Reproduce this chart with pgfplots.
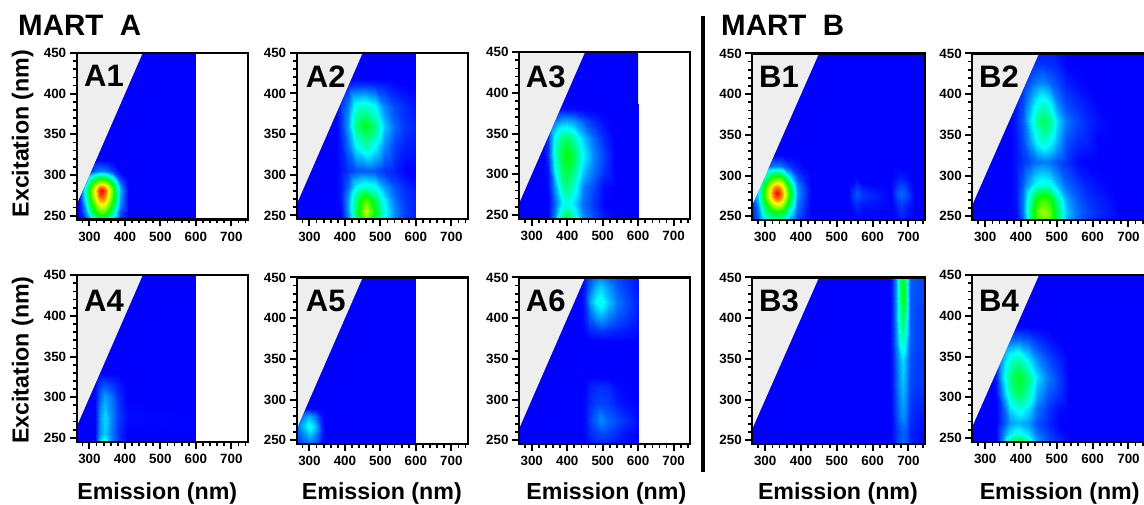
\documentclass[border=0pt]{standalone}
\usepackage{fontspec}
\setmainfont{Liberation Sans}
\usepackage{pgfplots}
\pgfplotsset{compat=1.18}
\pgfplotsset{
  colormap={eem}{rgb255(0)=(0,0,255) rgb255(1)=(0,255,255) rgb255(2)=(0,255,0) rgb255(3)=(255,255,0) rgb255(4)=(255,0,0)},
  eem/.style={
    scale only axis, width=171.3pt, height=166.5pt,
    xmin=264, xmax=747, ymin=245.3, ymax=450,
    colormap name=eem, point meta min=0, point meta max=1,
    xtick={300,400,500,600,700}, ytick={250,300,350,400,450},
    minor xtick={280,300,...,740}, minor ytick={250,260,...,450},
    tick align=outside, tick pos=left,
    major tick length=7pt, minor tick length=4pt,
    major tick style={black,line width=2pt},
    minor tick style={black,line width=1.7pt},
    axis line style={black,line width=2.2pt},
    axis on top, clip mode=individual,
    tick label style={font=\fontsize{13.4pt}{14pt}\selectfont\bfseries},
    /pgf/number format/assume math mode=true,
    xticklabel style={yshift=-2pt},
    label style={font=\fontsize{23.2pt}{24pt}\selectfont\bfseries},
  },
  surfp/.style={surf,shader=interp,point meta=explicit,mesh/cols=#1,forget plot},
  emx/.style 2 args={xlabel={Emission (nm)},xlabel style={at={(axis description cs:#1,#2)},anchor=center}},
  exy/.style={ylabel={Excitation (nm)},ylabel style={at={(axis description cs:-0.315,#1)},anchor=center,rotate=0}},
}
\definecolor{scat}{RGB}{238,238,238}
\newcommand{\scatter}{\addplot[fill=scat,draw=none,forget plot] coordinates {(262,262)(450,450)(262,450)(262,262)};
\draw[black,line width=2.2pt] (rel axis cs:0,0) rectangle (rel axis cs:1,1);}
\newcommand{\bgA}{\addplot[fill=blue,draw=none,forget plot] coordinates {(263,245)(600,245)(600,450)(263,450)(263,245)};}
\newcommand{\bgB}{\addplot[fill=blue,draw=none,forget plot] coordinates {(263,245)(750,245)(750,450)(263,450)(263,245)};}
\begin{document}
\begin{tikzpicture}[x=1pt,y=1pt]
\path[use as bounding box] (0,0) rectangle (1144,505);

% A1
\begin{axis}[eem,exy=0.516,at={(76.7pt,285.5pt)},anchor=south west]
\bgA
\addplot[surfp=11] coordinates {
(272,245)[0] (290,245)[.07] (305,245)[.2] (320,245)[.34] (328,245)[.38] (336,245)[.39] (344,245)[.37] (352,245)[.32] (365,245)[.17] (385,245)[.03] (410,245)[0]

(272,255)[.02] (290,255)[.15] (305,255)[.38] (320,255)[.53] (328,255)[.57] (336,255)[.58] (344,255)[.56] (352,255)[.5] (365,255)[.34] (385,255)[.08] (410,255)[0]

(272,268)[.04] (290,268)[.27] (305,268)[.53] (320,268)[.74] (328,268)[.81] (336,268)[.83] (344,268)[.79] (352,268)[.69] (365,268)[.5] (385,268)[.15] (410,268)[0]

(272,275)[.05] (290,275)[.31] (305,275)[.58] (320,275)[.82] (328,275)[.92] (336,275)[.95] (344,275)[.87] (352,275)[.76] (365,275)[.54] (385,275)[.17] (410,275)[0]

(272,281)[.05] (290,281)[.32] (305,281)[.59] (320,281)[.84] (328,281)[.96] (336,281)[1] (344,281)[.91] (352,281)[.78] (365,281)[.56] (385,281)[.18] (410,281)[.01]

(272,287)[.04] (290,287)[.28] (305,287)[.55] (320,287)[.76] (328,287)[.83] (336,287)[.85] (344,287)[.8] (352,287)[.7] (365,287)[.51] (385,287)[.15] (410,287)[0]

(272,293)[.02] (290,293)[.16] (305,293)[.41] (320,293)[.56] (328,293)[.61] (336,293)[.62] (344,293)[.59] (352,293)[.53] (365,293)[.38] (385,293)[.09] (410,293)[0]

(272,305)[0] (290,305)[.01] (305,305)[.05] (320,305)[.11] (328,305)[.13] (336,305)[.13] (344,305)[.12] (352,305)[.1] (365,305)[.05] (385,305)[0] (410,305)[0]

(272,318)[0] (290,318)[0] (305,318)[0] (320,318)[0] (328,318)[0] (336,318)[0] (344,318)[0] (352,318)[0] (365,318)[0] (385,318)[0] (410,318)[0]
};
\scatter
\end{axis}

% A2
\begin{axis}[eem,at={(296.7pt,285.7pt)},anchor=south west]
\bgA
\addplot[surfp=10] coordinates {
(375,245)[0] (390,245)[0] (410,245)[.12] (430,245)[.36] (458,245)[.62] (485,245)[.42] (510,245)[.24] (540,245)[.12] (570,245)[.05] (600,245)[.03]

(375,255)[0] (390,255)[.01] (410,255)[.15] (430,255)[.42] (458,255)[.7] (485,255)[.5] (510,255)[.28] (540,255)[.13] (570,255)[.06] (600,255)[.03]

(375,270)[0] (390,270)[.02] (410,270)[.15] (430,270)[.38] (458,270)[.57] (485,270)[.42] (510,270)[.24] (540,270)[.11] (570,270)[.05] (600,270)[.03]

(375,285)[0] (390,285)[.02] (410,285)[.1] (430,285)[.25] (458,285)[.3] (485,285)[.27] (510,285)[.16] (540,285)[.08] (570,285)[.04] (600,285)[.02]

(375,305)[0] (390,305)[.02] (410,305)[.05] (430,305)[.08] (458,305)[.09] (485,305)[.08] (510,305)[.05] (540,305)[.03] (570,305)[0] (600,305)[0]

(375,335)[0] (390,335)[.03] (410,335)[.11] (430,335)[.25] (458,335)[.32] (485,335)[.25] (510,335)[.14] (540,335)[.06] (570,335)[.03] (600,335)[.02]

(375,360)[0] (390,360)[.05] (410,360)[.16] (430,360)[.38] (458,360)[.48] (485,360)[.38] (510,360)[.2] (540,360)[.1] (570,360)[.05] (600,360)[.03]

(375,385)[0] (390,385)[.05] (410,385)[.12] (430,385)[.28] (458,385)[.3] (485,385)[.25] (510,385)[.13] (540,385)[.07] (570,385)[.04] (600,385)[.02]

(375,410)[0] (390,410)[.01] (410,410)[.03] (430,410)[.05] (458,410)[.05] (485,410)[.04] (510,410)[.03] (540,410)[.01] (570,410)[0] (600,410)[0]

(375,418)[0] (390,418)[0] (410,418)[0] (430,418)[0] (458,418)[0] (485,418)[0] (510,418)[0] (540,418)[0] (570,418)[0] (600,418)[0]
};
\scatter
\end{axis}

% A3
\begin{axis}[eem,at={(519pt,286.3pt)},anchor=south west]
\bgA
\addplot[surfp=11] coordinates {
(332,245)[0] (345,245)[0] (365,245)[.14] (385,245)[.4] (400,245)[.48] (420,245)[.34] (445,245)[.14] (475,245)[.08] (505,245)[.03] (535,245)[0] (600,245)[0]

(332,255)[0] (345,255)[0] (365,255)[.12] (385,255)[.3] (400,255)[.36] (420,255)[.27] (445,255)[.12] (475,255)[.06] (505,255)[.015] (535,255)[0] (600,255)[0]

(332,265)[0] (345,265)[0] (365,265)[.1] (385,265)[.24] (400,265)[.27] (420,265)[.22] (445,265)[.11] (475,265)[.05] (505,265)[0] (535,265)[0] (600,265)[0]

(332,285)[0] (345,285)[.01] (365,285)[.16] (385,285)[.34] (400,285)[.38] (420,285)[.29] (445,285)[.13] (475,285)[.07] (505,285)[.01] (535,285)[0] (600,285)[0]

(332,305)[0] (345,305)[.02] (365,305)[.25] (385,305)[.41] (400,305)[.44] (420,305)[.38] (445,305)[.2] (475,305)[.11] (505,305)[.05] (535,305)[0] (600,305)[0]

(332,325)[0] (345,325)[.05] (365,325)[.3] (385,325)[.44] (400,325)[.5] (420,325)[.42] (445,325)[.25] (475,325)[.13] (505,325)[.06] (535,325)[0] (600,325)[0]

(332,345)[0] (345,345)[.05] (365,345)[.27] (385,345)[.38] (400,345)[.39] (420,345)[.33] (445,345)[.2] (475,345)[.1] (505,345)[.04] (535,345)[0] (600,345)[0]

(332,365)[0] (345,365)[.04] (365,365)[.12] (385,365)[.16] (400,365)[.17] (420,365)[.15] (445,365)[.09] (475,365)[.04] (505,365)[.01] (535,365)[0] (600,365)[0]

(332,380)[0] (345,380)[0] (365,380)[0] (385,380)[.01] (400,380)[.01] (420,380)[.01] (445,380)[0] (475,380)[0] (505,380)[0] (535,380)[0] (600,380)[0]

(332,386)[0] (345,386)[0] (365,386)[0] (385,386)[0] (400,386)[0] (420,386)[0] (445,386)[0] (475,386)[0] (505,386)[0] (535,386)[0] (600,386)[0]
};
\scatter
\end{axis}

% B1
\begin{axis}[eem,width=173pt,at={(752.3pt,285pt)},anchor=south west]
\bgB
\addplot[surfp=22] coordinates {
(263,245)[.03] (280,245)[.1] (297,245)[.25] (315,245)[.3] (324,245)[.3] (332,245)[.3] (340,245)[.3] (349,245)[.28] (370,245)[.14] (390,245)[.06] (413,245)[.02] (428,245)[0] (530,245)[0] (545,245)[0] (557,245)[0] (570,245)[0] (650,245)[0] (665,245)[0] (680,245)[.03] (695,245)[0] (715,245)[0] (750,245)[0]

(263,258)[.03] (280,258)[.12] (297,258)[.35] (315,258)[.5] (324,258)[.54] (332,258)[.55] (340,258)[.54] (349,258)[.52] (370,258)[.28] (390,258)[.1] (413,258)[.03] (428,258)[0] (530,258)[0] (545,258)[.01] (557,258)[.03] (570,258)[.01] (650,258)[0] (665,258)[.02] (680,258)[.05] (695,258)[.02] (715,258)[0] (750,258)[0]

(263,268)[.05] (280,268)[.17] (297,268)[.46] (315,268)[.69] (324,268)[.77] (332,268)[.8] (340,268)[.77] (349,268)[.69] (370,268)[.42] (390,268)[.12] (413,268)[.04] (428,268)[0] (530,268)[0] (545,268)[.03] (557,268)[.05] (570,268)[.03] (650,268)[0] (665,268)[.04] (680,268)[.07] (695,268)[.04] (715,268)[0] (750,268)[0]

(263,274)[.08] (280,274)[.21] (297,274)[.51] (315,274)[.79] (324,274)[.89] (332,274)[.94] (340,274)[.89] (349,274)[.79] (370,274)[.47] (390,274)[.14] (413,274)[.05] (428,274)[0] (530,274)[0] (545,274)[.05] (557,274)[.08] (570,274)[.05] (650,274)[0] (665,274)[.06] (680,274)[.1] (695,274)[.06] (715,274)[0] (750,274)[0]

(263,279)[.1] (280,279)[.22] (297,279)[.53] (315,279)[.81] (324,279)[.94] (332,279)[1] (340,279)[.94] (349,279)[.81] (370,279)[.49] (390,279)[.15] (413,279)[.05] (428,279)[0] (530,279)[0] (545,279)[.05] (557,279)[.08] (570,279)[.05] (650,279)[0] (665,279)[.07] (680,279)[.1] (695,279)[.07] (715,279)[0] (750,279)[0]

(263,285)[.05] (280,285)[.2] (297,285)[.5] (315,285)[.77] (324,285)[.87] (332,285)[.91] (340,285)[.87] (349,285)[.77] (370,285)[.46] (390,285)[.14] (413,285)[.05] (428,285)[0] (530,285)[0] (545,285)[.03] (557,285)[.06] (570,285)[.03] (650,285)[0] (665,285)[.05] (680,285)[.08] (695,285)[.05] (715,285)[0] (750,285)[0]

(263,291)[.02] (280,291)[.16] (297,291)[.44] (315,291)[.66] (324,291)[.73] (332,291)[.76] (340,291)[.73] (349,291)[.66] (370,291)[.39] (390,291)[.12] (413,291)[.03] (428,291)[0] (530,291)[0] (545,291)[0] (557,291)[.03] (570,291)[0] (650,291)[0] (665,291)[.03] (680,291)[.06] (695,291)[.03] (715,291)[0] (750,291)[0]

(263,300)[0] (280,300)[.07] (297,300)[.25] (315,300)[.45] (324,300)[.5] (332,300)[.51] (340,300)[.5] (349,300)[.45] (370,300)[.21] (390,300)[.07] (413,300)[.02] (428,300)[0] (530,300)[0] (545,300)[0] (557,300)[0] (570,300)[0] (650,300)[0] (665,300)[.01] (680,300)[.02] (695,300)[.01] (715,300)[0] (750,300)[0]

(263,312)[0] (280,312)[.02] (297,312)[.07] (315,312)[.11] (324,312)[.12] (332,312)[.12] (340,312)[.12] (349,312)[.1] (370,312)[.05] (390,312)[.02] (413,312)[0] (428,312)[0] (530,312)[0] (545,312)[0] (557,312)[0] (570,312)[0] (650,312)[0] (665,312)[0] (680,312)[0] (695,312)[0] (715,312)[0] (750,312)[0]

(263,325)[0] (280,325)[0] (297,325)[0] (315,325)[0] (324,325)[0] (332,325)[0] (340,325)[0] (349,325)[0] (370,325)[0] (390,325)[0] (413,325)[0] (428,325)[0] (530,325)[0] (545,325)[0] (557,325)[0] (570,325)[0] (650,325)[0] (665,325)[0] (680,325)[0] (695,325)[0] (715,325)[0] (750,325)[0]
};
\scatter
\end{axis}

% B2
\begin{axis}[eem,width=173pt,at={(972.3pt,285pt)},anchor=south west]
\bgB
\addplot[surfp=15] coordinates {
(370,245)[0] (385,245)[0] (405,245)[.1] (425,245)[.34] (445,245)[.56] (462,245)[.6] (480,245)[.56] (500,245)[.38] (525,245)[.18] (555,245)[.1] (585,245)[.06] (615,245)[.03] (655,245)[.01] (670,245)[0] (750,245)[0]

(370,255)[0] (385,255)[.01] (405,255)[.12] (425,255)[.38] (445,255)[.6] (462,255)[.66] (480,255)[.6] (500,255)[.42] (525,255)[.2] (555,255)[.11] (585,255)[.07] (615,255)[.04] (655,255)[.02] (670,255)[0] (750,255)[0]

(370,272)[0] (385,272)[.02] (405,272)[.12] (425,272)[.32] (445,272)[.5] (462,272)[.55] (480,272)[.5] (500,272)[.34] (525,272)[.16] (555,272)[.09] (585,272)[.05] (615,272)[.03] (655,272)[.01] (670,272)[0] (750,272)[0]

(370,290)[0] (385,290)[.02] (405,290)[.09] (425,290)[.18] (445,290)[.26] (462,290)[.28] (480,290)[.26] (500,290)[.18] (525,290)[.1] (555,290)[.06] (585,290)[.03] (615,290)[.01] (655,290)[0] (670,290)[0] (750,290)[0]

(370,317)[0] (385,317)[.02] (405,317)[.05] (425,317)[.08] (445,317)[.11] (462,317)[.12] (480,317)[.11] (500,317)[.08] (525,317)[.05] (555,317)[.01] (585,317)[0] (615,317)[0] (655,317)[0] (670,317)[0] (750,317)[0]

(370,340)[0] (385,340)[.02] (405,340)[.07] (425,340)[.15] (445,340)[.25] (462,340)[.29] (480,340)[.25] (500,340)[.17] (525,340)[.08] (555,340)[.04] (585,340)[.03] (615,340)[0] (655,340)[0] (670,340)[0] (750,340)[0]

(370,367)[0] (385,367)[.03] (405,367)[.09] (425,367)[.22] (445,367)[.35] (462,367)[.42] (480,367)[.36] (500,367)[.22] (525,367)[.12] (555,367)[.07] (585,367)[.04] (615,367)[.015] (655,367)[0] (670,367)[0] (750,367)[0]

(370,390)[0] (385,390)[.02] (405,390)[.07] (425,390)[.16] (445,390)[.25] (462,390)[.29] (480,390)[.24] (500,390)[.13] (525,390)[.07] (555,390)[.04] (585,390)[.02] (615,390)[0] (655,390)[0] (670,390)[0] (750,390)[0]

(370,415)[0] (385,415)[0] (405,415)[.04] (425,415)[.08] (445,415)[.12] (462,415)[.13] (480,415)[.1] (500,415)[.07] (525,415)[.03] (555,415)[.01] (585,415)[0] (615,415)[0] (655,415)[0] (670,415)[0] (750,415)[0]

(370,440)[0] (385,440)[0] (405,440)[0] (425,440)[.03] (445,440)[.04] (462,440)[.04] (480,440)[.04] (500,440)[.03] (525,440)[0] (555,440)[0] (585,440)[0] (615,440)[0] (655,440)[0] (670,440)[0] (750,440)[0]

(370,450)[0] (385,450)[0] (405,450)[0] (425,450)[.02] (445,450)[.03] (462,450)[.03] (480,450)[.03] (500,450)[.02] (525,450)[0] (555,450)[0] (585,450)[0] (615,450)[0] (655,450)[0] (670,450)[0] (750,450)[0]
};
\scatter
\end{axis}

% A4
\begin{axis}[eem,exy=0.49,emx={0.47}{-0.314},at={(76.7pt,63.3pt)},anchor=south west]
\bgA
\addplot[surfp=8] coordinates {
(263,245)[0] (315,245)[0] (330,245)[.22] (345,245)[.3] (360,245)[.16] (380,245)[.06] (405,245)[0] (600,245)[0]

(263,255)[0] (315,255)[0] (330,255)[.15] (345,255)[.2] (360,255)[.12] (380,255)[.05] (405,255)[0] (600,255)[0]

(263,275)[0] (315,275)[0] (330,275)[.15] (345,275)[.22] (360,275)[.14] (380,275)[.06] (405,275)[.01] (600,275)[0]

(263,300)[0] (315,300)[0] (330,300)[.1] (345,300)[.16] (360,300)[.12] (380,300)[.05] (405,300)[0] (600,300)[0]

(263,315)[0] (315,315)[0] (330,315)[.06] (345,315)[.08] (360,315)[.06] (380,315)[.03] (405,315)[0] (600,315)[0]

(263,330)[0] (315,330)[0] (330,330)[0] (345,330)[0] (360,330)[0] (380,330)[0] (405,330)[0] (600,330)[0]
};
\scatter
\end{axis}

% A5
\begin{axis}[eem,emx={0.497}{-0.3},at={(296.7pt,61pt)},anchor=south west]
\bgA
\addplot[surfp=6] coordinates {
(263,245)[.04] (285,245)[.08] (300,245)[.11] (315,245)[.08] (335,245)[.01] (345,245)[0]

(263,255)[.07] (285,255)[.13] (300,255)[.18] (315,255)[.13] (335,255)[.02] (345,255)[0]

(263,268)[.1] (285,268)[.2] (300,268)[.28] (315,268)[.2] (335,268)[.03] (345,268)[0]

(263,280)[.05] (285,280)[.13] (300,280)[.17] (315,280)[.12] (335,280)[.02] (345,280)[0]

(263,290)[0] (285,290)[0] (300,290)[0] (315,290)[0] (335,290)[0] (345,290)[0]
};
\scatter
\end{axis}

% A6
\begin{axis}[eem,emx={0.51}{-0.3},at={(519pt,61pt)},anchor=south west]
\bgA
\addplot[surfp=9] coordinates {
(440,245)[0] (450,245)[0] (465,245)[.02] (480,245)[.03] (495,245)[.03] (515,245)[.03] (540,245)[.01] (570,245)[0] (600,245)[0]

(440,258)[0] (450,258)[.01] (465,258)[.04] (480,258)[.06] (495,258)[.07] (515,258)[.06] (540,258)[.04] (570,258)[.01] (600,258)[0]

(440,275)[0] (450,275)[.01] (465,275)[.06] (480,275)[.1] (495,275)[.14] (515,275)[.1] (540,275)[.07] (570,275)[.04] (600,275)[.01]

(440,295)[0] (450,295)[.01] (465,295)[.04] (480,295)[.06] (495,295)[.07] (515,295)[.06] (540,295)[.03] (570,295)[.01] (600,295)[0]

(440,315)[0] (450,315)[0] (465,315)[.03] (480,315)[.04] (495,315)[.045] (515,315)[.04] (540,315)[.01] (570,315)[0] (600,315)[0]

(440,328)[0] (450,328)[0] (465,328)[0] (480,328)[0] (495,328)[0] (515,328)[0] (540,328)[0] (570,328)[0] (600,328)[0]

(440,372)[0] (450,372)[0] (465,372)[0] (480,372)[0] (495,372)[0] (515,372)[0] (540,372)[0] (570,372)[0] (600,372)[0]

(440,385)[0] (450,385)[.01] (465,385)[.04] (480,385)[.05] (495,385)[.06] (515,385)[.05] (540,385)[.035] (570,385)[.025] (600,385)[.01]

(440,400)[0] (450,400)[.03] (465,400)[.09] (480,400)[.14] (495,400)[.16] (515,400)[.12] (540,400)[.08] (570,400)[.05] (600,400)[.025]

(440,420)[0] (450,420)[.04] (465,420)[.16] (480,420)[.25] (495,420)[.28] (515,420)[.2] (540,420)[.12] (570,420)[.07] (600,420)[.03]

(440,440)[0] (450,440)[.03] (465,440)[.1] (480,440)[.17] (495,440)[.2] (515,440)[.15] (540,440)[.09] (570,440)[.05] (600,440)[.02]

(440,450)[0] (450,450)[.03] (465,450)[.07] (480,450)[.11] (495,450)[.13] (515,450)[.1] (540,450)[.07] (570,450)[.04] (600,450)[.02]
};
\scatter
\end{axis}

% B3
\begin{axis}[eem,width=173pt,emx={0.495}{-0.3},at={(752.3pt,61pt)},anchor=south west]
\bgB
\addplot[surfp=9] coordinates {
(645,245)[0] (655,245)[.01] (665,245)[.05] (675,245)[.09] (684,245)[.1] (695,245)[.08] (705,245)[.03] (720,245)[.02] (750,245)[0]

(645,260)[0] (655,260)[.01] (665,260)[.05] (675,260)[.08] (684,260)[.09] (695,260)[.08] (705,260)[.03] (720,260)[.02] (750,260)[0]

(645,280)[0] (655,280)[.01] (665,280)[.07] (675,280)[.12] (684,280)[.14] (695,280)[.1] (705,280)[.05] (720,280)[.03] (750,280)[.02]

(645,320)[0] (655,320)[.02] (665,320)[.09] (675,320)[.16] (684,320)[.19] (695,320)[.13] (705,320)[.07] (720,320)[.06] (750,320)[.05]

(645,350)[0] (655,350)[.02] (665,350)[.1] (675,350)[.18] (684,350)[.22] (695,350)[.14] (705,350)[.08] (720,350)[.06] (750,350)[.05]

(645,370)[0] (655,370)[.03] (665,370)[.13] (675,370)[.26] (684,370)[.32] (695,370)[.18] (705,370)[.09] (720,370)[.07] (750,370)[.05]

(645,400)[0] (655,400)[.03] (665,400)[.15] (675,400)[.34] (684,400)[.42] (695,400)[.25] (705,400)[.09] (720,400)[.07] (750,400)[.05]

(645,430)[0] (655,430)[.03] (665,430)[.15] (675,430)[.38] (684,430)[.54] (695,430)[.27] (705,430)[.09] (720,430)[.08] (750,430)[.06]

(645,450)[0] (655,450)[.03] (665,450)[.15] (675,450)[.36] (684,450)[.5] (695,450)[.27] (705,450)[.09] (720,450)[.08] (750,450)[.06]
};
\scatter
\end{axis}

% B4
\begin{axis}[eem,width=173pt,emx={0.505}{-0.314},at={(972.3pt,63.3pt)},anchor=south west]
\bgB
\addplot[surfp=11] coordinates {
(318,245)[0] (330,245)[0] (350,245)[.14] (370,245)[.38] (395,245)[.5] (420,245)[.36] (445,245)[.16] (475,245)[.08] (505,245)[.04] (535,245)[0] (750,245)[0]

(318,255)[0] (330,255)[0] (350,255)[.12] (370,255)[.23] (395,255)[.29] (420,255)[.22] (445,255)[.12] (475,255)[.06] (505,255)[.02] (535,255)[0] (750,255)[0]

(318,268)[0] (330,268)[0] (350,268)[.07] (370,268)[.15] (395,268)[.18] (420,268)[.15] (445,268)[.08] (475,268)[.04] (505,268)[0] (535,268)[0] (750,268)[0]

(318,285)[0] (330,285)[0] (350,285)[.08] (370,285)[.22] (395,285)[.28] (420,285)[.22] (445,285)[.11] (475,285)[.05] (505,285)[.01] (535,285)[0] (750,285)[0]

(318,305)[0] (330,305)[.01] (350,305)[.16] (370,305)[.33] (395,305)[.42] (420,305)[.33] (445,305)[.17] (475,305)[.09] (505,305)[.05] (535,305)[0] (750,305)[0]

(318,325)[0] (330,325)[.03] (350,325)[.22] (370,325)[.38] (395,325)[.47] (420,325)[.38] (445,325)[.22] (475,325)[.12] (505,325)[.06] (535,325)[0] (750,325)[0]

(318,350)[0] (330,350)[.04] (350,350)[.17] (370,350)[.27] (395,350)[.31] (420,350)[.22] (445,350)[.13] (475,350)[.07] (505,350)[.03] (535,350)[0] (750,350)[0]

(318,370)[0] (330,370)[.03] (350,370)[.07] (370,370)[.1] (395,370)[.11] (420,370)[.09] (445,370)[.05] (475,370)[.02] (505,370)[0] (535,370)[0] (750,370)[0]

(318,387)[0] (330,387)[0] (350,387)[0] (370,387)[0] (395,387)[0] (420,387)[0] (445,387)[0] (475,387)[0] (505,387)[0] (535,387)[0] (750,387)[0]
};
\scatter
\end{axis}

% titles and separator
\draw[black,line width=4pt] (702.7,489) -- (702.7,33);
\node[anchor=base west,inner sep=0pt,font=\fontsize{29.5pt}{30pt}\selectfont\bfseries] at (18,469) {MART\ \ A};
\node[anchor=base west,inner sep=0pt,font=\fontsize{29.5pt}{30pt}\selectfont\bfseries] at (721,469) {MART\ \ B};
\tikzset{pl/.style={anchor=base west,inner sep=0pt,font=\fontsize{31pt}{32pt}\selectfont\bfseries}}
\node[pl] at (84,418) {A1};
\node[pl] at (305.7,417) {A2};
\node[pl] at (525.7,417) {A3};
\node[pl] at (759,417.7) {B1};
\node[pl] at (979,417.7) {B2};
\node[pl] at (84,193.3) {A4};
\node[pl] at (305.7,193.3) {A5};
\node[pl] at (525.7,193.3) {A6};
\node[pl] at (759,193.3) {B3};
\node[pl] at (979,193.3) {B4};
\end{tikzpicture}
\end{document}
